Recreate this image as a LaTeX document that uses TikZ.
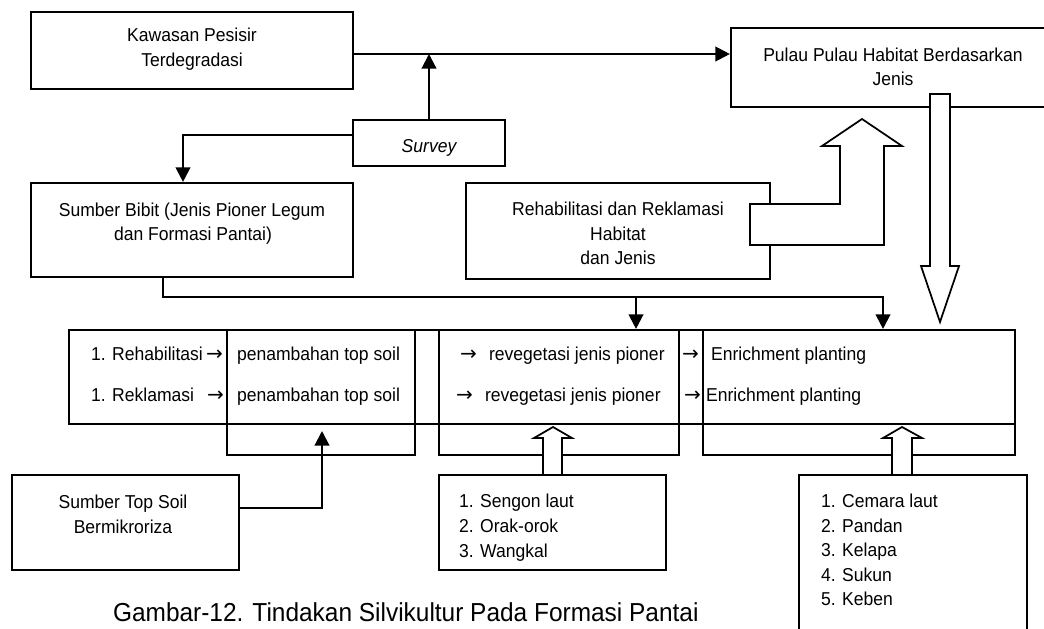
\documentclass[tikz,border=0pt]{standalone}
\usepackage{fontspec}
\setmainfont{Liberation Sans}[FakeStretch=0.94]
\newfontfamily\symfont{DejaVu Sans}
\usetikzlibrary{arrows.meta,fit}

\begin{document}
\begin{tikzpicture}[x=0.75pt,y=-0.75pt,
  line width=1.6pt,
  box/.style={draw,inner sep=0pt,fit={#1}},
  txt/.style={inner sep=0pt,font=\fontsize{14}{18}\selectfont},
  sym/.style={inner sep=0pt,font=\fontsize{15}{18}\symfont},
  ttl/.style={inner sep=0pt,font=\fontsize{19.5}{24}\selectfont},
  arr/.style={-{Triangle[width=11pt,length=11pt]}},
  blockarrow/.style={draw,fill=white,line width=1.3pt,line join=miter}
]
\useasboundingbox (0,0) rectangle (1044,628);
\clip (0,0) rectangle (1044,628);

% ---- boxes ----
\node[box={(31,12) (353,89)}] (kaw) {};
\node[box={(731,28) (1056,107)}] (pulau) {};
\node[box={(353,120) (505,166)}] (survey) {};
\node[box={(31,183) (353,277)}] (bibit) {};
\node[box={(466,183) (770,279)}] (rehab) {};
\node[box={(69,330) (1015,424)}] (row) {};
\node[box={(227,330) (415,455)}] (colA) {};
\node[box={(439,330) (679,455)}] (colB) {};
\node[box={(703,330) (1015,455)}] (colC) {};
\node[box={(12,475) (239,570)}] (topsoil) {};
\node[box={(439,475) (666,570)}] (sengon) {};
\node[box={(799,475) (1027,640)}] (cemara) {};

% ---- hollow block arrows ----
\draw[blockarrow] (750,204) -- (840,204) -- (840,146) -- (822,146) -- (862,119)
  -- (902,146) -- (884,146) -- (884,245) -- (750,245) -- cycle;
\draw[blockarrow] (930,94) -- (950,94) -- (950,266) -- (959,266) -- (940,322)
  -- (921,266) -- (930,266) -- cycle;
\draw[blockarrow] (543,475) -- (543,438) -- (534,438) -- (553,427) -- (572,438)
  -- (562,438) -- (562,475) -- cycle;
\draw[blockarrow] (892,475) -- (892,438) -- (883,438) -- (902,427) -- (922,438)
  -- (912,438) -- (912,475) -- cycle;

% ---- connectors ----
\coordinate (toprow) at (0,54);
\coordinate (svleft) at (0,135);
\coordinate (bibdrop) at (183,0);
\coordinate (j1) at (163,297);
\coordinate (j2) at (636,297);
\coordinate (j3) at (883,297);
\coordinate (tsrow) at (0,508);
\coordinate (tsup) at (322,431);

\draw[arr] (kaw.east |- toprow) -- (pulau.west |- toprow);
\draw[arr] (survey.north) -- (survey.north |- toprow);
\draw[arr] (survey.west |- svleft) -| (bibit.north -| bibdrop);
\draw[arr] (bibit.south -| j1) -- (j1) -- (j3) -- (j3 |- row.north);
\draw[arr] (j2) -- (j2 |- row.north);
\draw[arr] (topsoil.east |- tsrow) -| (tsup);

% ---- texts ----
\node[txt,anchor=base] (kawA) at (192,41) {Kawasan Pesisir};
\node[txt,anchor=base] (kawB) at (192,66) {Terdegradasi};
\node[txt,anchor=base] (pulA) at (893,61) {Pulau Pulau Habitat Berdasarkan};
\node[txt,anchor=base] (pulB) at (893,85) {Jenis};
\node[txt,anchor=base] (svt) at (429,152) {\itshape Survey};
\node[txt,anchor=base] (bibA) at (192,216) {Sumber Bibit (Jenis Pioner Legum};
\node[txt,anchor=base] (bibB) at (193,240) {dan Formasi Pantai)};
\node[txt,anchor=base] (rehA) at (618,215) {Rehabilitasi dan Reklamasi};
\node[txt,anchor=base] (rehB) at (618,240) {Habitat};
\node[txt,anchor=base] (rehC) at (618,264) {dan Jenis};

\node[txt,anchor=base west] (r1a) at (90,360) {1. Rehabilitasi};
\node[sym,anchor=base west] (r1b) at (205,360) {→};
\node[txt,anchor=base west] (r1c) at (236,360) {penambahan top soil};
\node[sym,anchor=base west] (r1d) at (459,360) {→};
\node[txt,anchor=base west] (r1e) at (488,360) {revegetasi jenis pioner};
\node[sym,anchor=base west] (r1f) at (681,360) {→};
\node[txt,anchor=base west] (r1g) at (710,360) {Enrichment planting};

\node[txt,anchor=base west] (r2a) at (90,401) {1. Reklamasi};
\node[sym,anchor=base west] (r2b) at (206,401) {→};
\node[txt,anchor=base west] (r2c) at (236,401) {penambahan top soil};
\node[sym,anchor=base west] (r2d) at (455,401) {→};
\node[txt,anchor=base west] (r2e) at (484,401) {revegetasi jenis pioner};
\node[sym,anchor=base west] (r2f) at (683,401) {→};
\node[txt,anchor=base west] (r2g) at (705,401) {Enrichment planting};

\node[txt,anchor=base] (tsA) at (123,508) {Sumber Top Soil};
\node[txt,anchor=base] (tsB) at (123,533) {Bermikroriza};

\node[txt,anchor=base west] (sgA) at (458,507) {1. Sengon laut};
\node[txt,anchor=base west] (sgB) at (458,532) {2. Orak-orok};
\node[txt,anchor=base west] (sgC) at (458,557) {3. Wangkal};

\node[txt,anchor=base west] (cmA) at (820,507) {1. Cemara laut};
\node[txt,anchor=base west] (cmB) at (820,532) {2. Pandan};
\node[txt,anchor=base west] (cmC) at (820,556) {3. Kelapa};
\node[txt,anchor=base west] (cmD) at (820,581) {4. Sukun};
\node[txt,anchor=base west] (cmE) at (820,605) {5. Keben};

\node[ttl,anchor=base west] (title) at (112,621) {Gambar-12. Tindakan Silvikultur Pada Formasi Pantai};
\end{tikzpicture}
\end{document}
